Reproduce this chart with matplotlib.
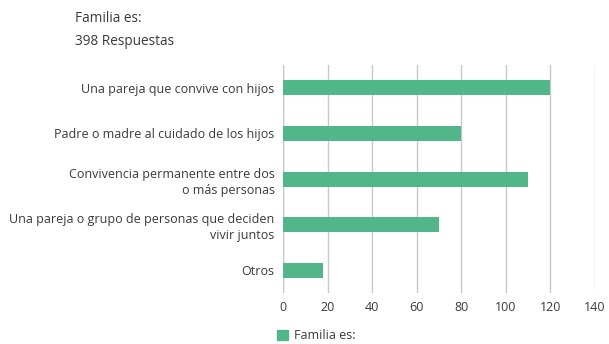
import matplotlib
matplotlib.use("Agg")
import matplotlib.pyplot as plt
from matplotlib.patches import Patch

# data
categories = [
    "Una pareja que convive con hijos",
    "Padre o madre al cuidado de los hijos",
    "Convivencia permanente entre dos\no más personas",
    "Una pareja o grupo de personas que deciden\nvivir juntos",
    "Otros",
]
values = [120, 80, 110, 70, 18]
xticks = [0, 20, 40, 60, 80, 100, 120, 140]
series_name = "Familia es:"
title = "Familia es:\n398 Respuestas"

GREEN = "#52b68b"
GRID = "#c8c8c8"
TEXT = "#3a3a3a"

plt.rcParams["font.family"] = ["Open Sans", "DejaVu Sans"]

fig = plt.figure(figsize=(6.09, 3.44), dpi=100)
ax = fig.add_axes([0.4647, 0.148, 0.512, 0.663])

ypos = list(range(len(categories)))
ax.barh(ypos, values, height=0.33, color=GREEN, zorder=3)
ax.set_ylim(len(categories) - 0.5, -0.5)
ax.set_xlim(0, 140)

ax.set_yticks(ypos)
ax.set_yticklabels(categories, fontsize=9, color=TEXT, linespacing=1.3)
ax.set_xticks(xticks)
ax.set_xticklabels([str(t) for t in xticks], fontsize=9, color=TEXT)
ax.tick_params(axis="x", length=0, pad=6)
ax.tick_params(axis="y", length=0, pad=6)

ax.grid(axis="x", color=GRID, lw=1, zorder=0)
ax.set_axisbelow(True)
for s in ax.spines.values():
    s.set_visible(False)
ax.axvline(0, color=GRID, lw=1, zorder=1)

fig.text(0.123, 0.967, title, fontsize=9.8, color=TEXT, va="top", linespacing=1.7)

fig.legend(handles=[Patch(color=GREEN, label=series_name)], loc="lower left",
           bbox_to_anchor=(0.436, -0.028), frameon=False, fontsize=9,
           handlelength=0.9, handleheight=0.9, handletextpad=0.5,
           labelcolor=TEXT)

fig.savefig("out.png", dpi=100)
